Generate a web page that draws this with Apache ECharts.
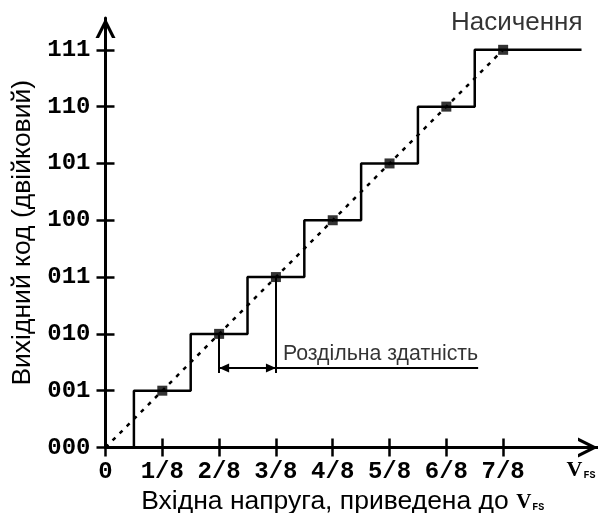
<!DOCTYPE html>
<html><head><meta charset="utf-8">
<script src="https://cdn.jsdelivr.net/npm/echarts@6/dist/echarts.min.js"></script>
<style>html,body{margin:0;padding:0;background:#fff}#c{width:598px;height:513px}</style>
</head><body><div id="c"></div>
<script>
// ---- data ----
const codeLabels = ['000', '001', '010', '011', '100', '101', '110', '111'];
const xTickLabels = ['0', '1/8', '2/8', '3/8', '4/8', '5/8', '6/8', '7/8', 'V_FS'];
const stepEdges = [0, 0.5, 1.5, 2.5, 3.5, 4.5, 5.5, 6.5, 8.38];
const stepCodes = [0, 1, 2, 3, 4, 5, 6, 7, 7];
const idealX = [0, 7];
const idealY = [0, 7];
const markerX = [1, 2, 3, 4, 5, 6, 7];
const markerY = [1, 2, 3, 4, 5, 6, 7];
const resolutionCodes = [2, 3];
const resolutionLevel = 1.4;
const resolutionDrop = 1.31;
const resolutionLineEnd = 6.56;
const resolutionText = 'Роздільна здатність';
const saturationText = 'Насичення';
const xName = 'Вхідна напруга, приведена до ';
const yName = 'Вихідний код (двійковий)';

// ---- chart ----
const chart = echarts.init(document.getElementById('c'), null, {renderer: 'canvas'});
const tickVals = codeLabels.map((_, i) => i);
const xLabelVals = xTickLabels.map((_, i) => i);
const chevron = 'path://M10,0 L20,20 L16.5,20 L10,7 L3.5,20 L0,20 Z';
const monoFont = 'Liberation Mono';
const sansFont = 'Liberation Sans';
const black = '#000';

function xAxisBase(extra) {
  return Object.assign({
    type: 'value', min: 0, max: 8.67, gridIndex: 0, position: 'bottom',
    splitLine: {show: false}
  }, extra);
}
function yAxisBase(extra) {
  return Object.assign({
    type: 'value', min: 0, max: 7.56, gridIndex: 0, position: 'left',
    splitLine: {show: false}
  }, extra);
}

const option = {
  animation: false,
  backgroundColor: '#fff',
  grid: {left: 105.5, top: 18, right: 0, bottom: 65.5, containLabel: false, outerBoundsMode: 'none'},
  xAxis: [
    xAxisBase({
      axisLine: {show: true, onZero: false, lineStyle: {color: black, width: 3},
        symbol: ['none', chevron], symbolSize: [20, 20], symbolOffset: [0, -10]},
      axisTick: {show: true, customValues: tickVals, length: 9, inside: false, lineStyle: {color: black, width: 2.5}},
      axisLabel: {show: true, customValues: xLabelVals, margin: 12, color: black,
        fontFamily: monoFont, fontWeight: 'bold', fontSize: 24,
        formatter: v => {
          const t = xTickLabels[Math.round(v)];
          return t === 'V_FS' ? '{v|V}{s|FS}' : t;
        },
        rich: {
          v: {fontFamily: 'Liberation Serif', fontWeight: 'bold', fontSize: 22, color: black, padding: [0, 0, 0, 42]},
          s: {fontFamily: monoFont, fontWeight: 'bold', fontSize: 10, color: black, padding: [10, 0, 0, 1]}
        }
      },
      name: '{a|' + xName + '}{v|V}{s|FS}',
      nameLocation: 'middle', nameGap: 36,
      nameTextStyle: {
        padding: [0, 18, 0, 0],
        rich: {
          a: {fontFamily: sansFont, fontSize: 26.5, color: black},
          v: {fontFamily: 'Liberation Serif', fontWeight: 'bold', fontSize: 21, color: black, padding: [2, 0, 0, 0]},
          s: {fontFamily: monoFont, fontWeight: 'bold', fontSize: 10, color: black, padding: [12, 0, 0, 1]}
        }
      }
    }),
    xAxisBase({
      axisLine: {show: false, onZero: false},
      axisTick: {show: true, customValues: tickVals, length: 9, inside: true, lineStyle: {color: black, width: 2.5}},
      axisLabel: {show: false}
    })
  ],
  yAxis: [
    yAxisBase({
      axisLine: {show: true, onZero: false, lineStyle: {color: black, width: 3},
        symbol: ['none', chevron], symbolSize: [20, 20], symbolOffset: [0, -10]},
      axisTick: {show: true, customValues: tickVals, length: 9, inside: false, lineStyle: {color: black, width: 2.5}},
      axisLabel: {show: true, customValues: tickVals, margin: 15, color: black,
        fontFamily: monoFont, fontWeight: 'bold', fontSize: 24,
        formatter: v => codeLabels[Math.round(v)]},
      name: yName, nameLocation: 'middle', nameGap: 66, nameRotate: 90,
      nameTextStyle: {fontFamily: sansFont, fontSize: 26.5, color: black}
    }),
    yAxisBase({
      axisLine: {show: false, onZero: false},
      axisTick: {show: true, customValues: tickVals, length: 9, inside: true, lineStyle: {color: black, width: 2.5}},
      axisLabel: {show: false}
    })
  ],
  series: [
    {
      type: 'line', name: 'ideal', xAxisIndex: 0, yAxisIndex: 0,
      data: idealX.map((x, i) => [x, idealY[i]]),
      symbol: 'none', silent: true,
      lineStyle: {color: black, width: 2.5, type: [4, 6]}
    },
    {
      type: 'line', name: 'transfer', xAxisIndex: 0, yAxisIndex: 0,
      step: 'end',
      data: stepEdges.map((x, i) => [x, stepCodes[i]]),
      symbol: 'none', silent: true,
      lineStyle: {color: black, width: 2.5}
    },
    {
      type: 'scatter', name: 'codes', xAxisIndex: 0, yAxisIndex: 0,
      data: markerX.map((x, i) => [x, markerY[i]]),
      symbol: 'rect', symbolSize: 10, silent: true,
      itemStyle: {color: black}
    },
    {
      type: 'scatter', name: 'saturation', xAxisIndex: 0, yAxisIndex: 0,
      data: [[stepEdges[stepEdges.length - 1], stepCodes[stepCodes.length - 1]]],
      symbolSize: 0, silent: true,
      label: {show: true, formatter: saturationText, position: [1, -14], align: 'right', verticalAlign: 'bottom',
        fontFamily: sansFont, fontSize: 26, color: black}
    },
    {
      type: 'scatter', name: 'resolution', xAxisIndex: 0, yAxisIndex: 0,
      data: [[resolutionCodes[1], resolutionLevel]],
      symbolSize: 0, silent: true,
      label: {show: true, formatter: resolutionText, position: [7, -3], align: 'left', verticalAlign: 'bottom',
        fontFamily: sansFont, fontSize: 21.3, color: black},
      markLine: {
        silent: true, symbol: 'none', animation: false,
        label: {show: false},
        lineStyle: {color: black, width: 2, type: 'solid'},
        emphasis: {disabled: true},
        data: [
          [{coord: [resolutionCodes[0], resolutionCodes[0]]}, {coord: [resolutionCodes[0], resolutionDrop]}],
          [{coord: [resolutionCodes[1], resolutionCodes[1]]}, {coord: [resolutionCodes[1], resolutionDrop]}],
          [{coord: [resolutionCodes[0], resolutionLevel], symbol: 'triangle', symbolSize: [9, 10], symbolOffset: [0, 5]},
           {coord: [resolutionCodes[1], resolutionLevel], symbol: 'triangle', symbolSize: [9, 10], symbolOffset: [0, 5]}],
          [{coord: [resolutionCodes[1], resolutionLevel]}, {coord: [resolutionLineEnd, resolutionLevel]}]
        ]
      }
    }
  ]
};
chart.setOption(option);
</script>
</body></html>
